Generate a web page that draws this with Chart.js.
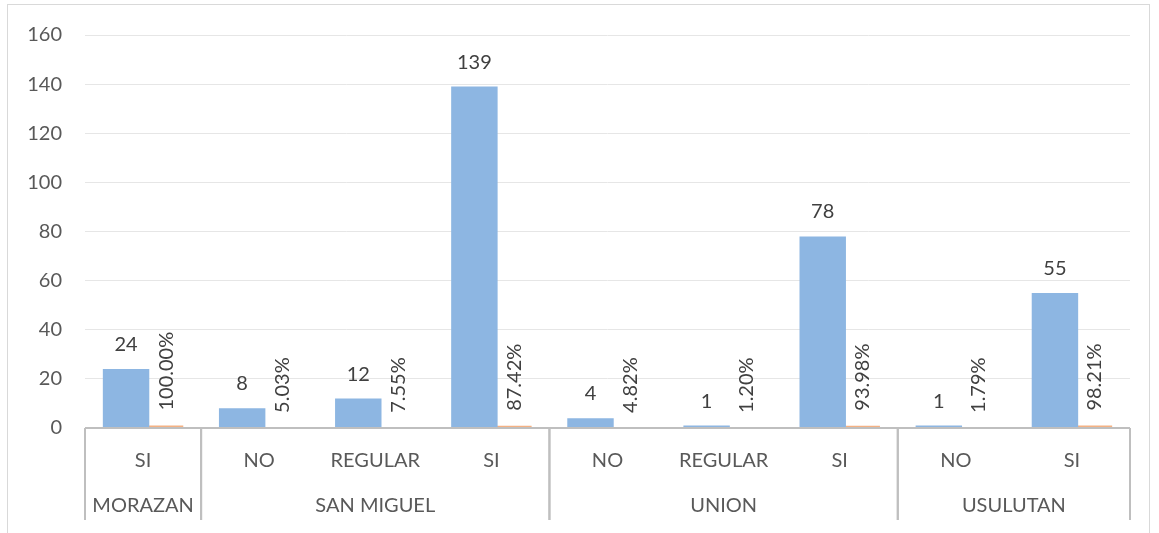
<!DOCTYPE html>
<html>
<head>
<meta charset="utf-8">
<script src="https://cdn.jsdelivr.net/npm/chart.js@4/dist/chart.umd.min.js"></script>
<style>
  body { margin: 0; background: #fff; }
  #wrap { position: relative; width: 1159px; height: 533px; overflow: hidden; }
  #frame { position: absolute; left: 7px; top: 4px; width: 1143px; height: 600px; border: 1px solid #d9d9d9; box-sizing: border-box; }
  canvas { position: absolute; left: 0; top: 0; }
</style>
</head>
<body>
<div id="wrap">
  <div id="frame"></div>
  <canvas id="myChart" width="1159" height="533"></canvas>
</div>
<script>
const categories = ['SI', 'NO', 'REGULAR', 'SI', 'NO', 'REGULAR', 'SI', 'NO', 'SI'];
const groups = ['MORAZAN', 'SAN MIGUEL', 'SAN MIGUEL', 'SAN MIGUEL', 'UNION', 'UNION', 'UNION', 'USULUTAN', 'USULUTAN'];
const counts = [24, 8, 12, 139, 4, 1, 78, 1, 55];
const shares = [1.0, 0.0503, 0.0755, 0.8742, 0.0482, 0.012, 0.9398, 0.0179, 0.9821];
const yMin = 0, yMax = 160, yStep = 20;

const FONT = 'Lato, "Open Sans", sans-serif';
const AXIS = '#bfbfbf';

// the two series overlap a bit inside each category
const overlapShift = {
  id: 'overlapShift',
  afterDatasetsUpdate(chart) {
    chart.getDatasetMeta(0).data.forEach(b => { b.x -= 17; });
    chart.getDatasetMeta(1).data.forEach(b => { b.x += 17; });
  }
};

// value labels: counts above the blue bars, percentages rotated above the orange ones
const valueLabels = {
  id: 'valueLabels',
  afterDatasetsDraw(chart) {
    const ctx = chart.ctx;
    ctx.save();
    ctx.font = '20px ' + FONT;
    ctx.fillStyle = '#404040';
    chart.getDatasetMeta(0).data.forEach((b, i) => {
      ctx.textAlign = 'center';
      ctx.textBaseline = 'alphabetic';
      ctx.fillText(String(counts[i]), b.x, b.y - 18);
    });
    chart.getDatasetMeta(1).data.forEach((b, i) => {
      ctx.save();
      ctx.translate(b.x + 6, b.y - 15);
      ctx.rotate(-Math.PI / 2);
      ctx.textAlign = 'left';
      ctx.textBaseline = 'middle';
      ctx.fillText((shares[i] * 100).toFixed(2) + '%', 0, 0);
      ctx.restore();
    });
    ctx.restore();
  }
};

// two-row category axis with separators between the departments
const groupAxis = {
  id: 'groupAxis',
  afterDraw(chart) {
    const ctx = chart.ctx;
    const xs = chart.scales.x;
    const area = chart.chartArea;
    const step = xs.getPixelForValue(1) - xs.getPixelForValue(0);
    const yBase = area.bottom;
    const yEnd = yBase + 92;
    ctx.save();
    ctx.strokeStyle = AXIS;
    ctx.lineWidth = 2;
    ctx.beginPath();
    ctx.moveTo(area.left, yBase);
    ctx.lineTo(area.right, yBase);
    ctx.stroke();

    ctx.font = '20px ' + FONT;
    ctx.fillStyle = '#595959';
    ctx.textAlign = 'center';
    ctx.textBaseline = 'middle';
    categories.forEach((c, i) => {
      ctx.fillText(c, xs.getPixelForValue(i), yBase + 33);
    });

    let start = 0;
    for (let i = 1; i <= groups.length; i++) {
      if (i === groups.length || groups[i] !== groups[start]) {
        const x0 = xs.getPixelForValue(start) - step / 2;
        const x1 = xs.getPixelForValue(i - 1) + step / 2;
        ctx.fillText(groups[start], (x0 + x1) / 2, yBase + 78);
        ctx.beginPath();
        ctx.moveTo(x0, yBase);
        ctx.lineTo(x0, yEnd);
        ctx.moveTo(x1, yBase);
        ctx.lineTo(x1, yEnd);
        ctx.stroke();
        start = i;
      }
    }
    ctx.restore();
  }
};

const ctx = document.getElementById('myChart').getContext('2d');
const myChart = new Chart(ctx, {
  type: 'bar',
  data: {
    labels: categories,
    datasets: [{
      label: 'Cantidad',
      data: counts,
      backgroundColor: '#8db6e2',
      grouped: false,
      barPercentage: 0.4,
      categoryPercentage: 1
    }, {
      label: 'Porcentaje',
      data: shares,
      backgroundColor: '#f4b183',
      grouped: false,
      barPercentage: 0.4,
      categoryPercentage: 1
    }]
  },
  options: {
    responsive: false,
    animation: false,
    layout: { padding: { top: 34, right: 29, left: 0, bottom: 0 } },
    plugins: {
      legend: { display: false },
      tooltip: { enabled: false }
    },
    scales: {
      x: {
        grid: { display: false },
        border: { display: false },
        ticks: { display: false },
        afterFit(scale) { scale.height = 105; }
      },
      y: {
        min: yMin,
        max: yMax,
        ticks: {
          stepSize: yStep,
          color: '#595959',
          font: { family: FONT, size: 20 },
          padding: 23
        },
        grid: { color: '#e6e6e6', lineWidth: 1, drawTicks: false },
        border: { display: false },
        afterFit(scale) { scale.width = 85; }
      }
    }
  },
  plugins: [overlapShift, valueLabels, groupAxis]
});
</script>
</body>
</html>
